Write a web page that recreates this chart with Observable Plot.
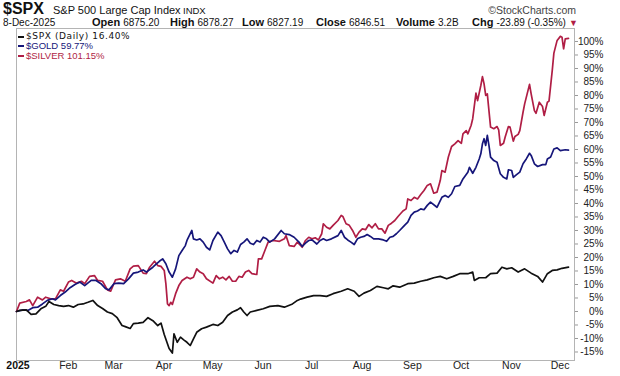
<!DOCTYPE html>
<html><head><meta charset="utf-8">
<script src="https://cdn.jsdelivr.net/npm/d3@7"></script>
<script src="https://cdn.jsdelivr.net/npm/@observablehq/plot@0.6"></script>
<style>
body{margin:0;background:#fff;width:620px;height:376px;overflow:hidden;font-family:"Liberation Sans",Arial,sans-serif;color:#111}
#wrap{position:relative;width:620px;height:376px}
#hdr{position:relative;height:27px}
#hdr span{position:absolute;white-space:nowrap;line-height:1}
#hdr .g{font-size:11px;height:11px}
.b{font-weight:bold;font-size:11px}
.v{font-size:10px}
#legend{position:absolute;left:18px;top:31.5px;line-height:9.5px}
#legend div{white-space:nowrap;position:relative;padding-left:8px;height:9.5px}
#legend i{position:absolute;left:0;top:4px;width:6px;height:2px}
</style></head>
<body><div id="wrap">
<div id="hdr">
  <span style="left:3px;top:1px;font-size:16px;font-weight:bold">$SPX</span>
  <span style="left:53px;top:4.5px;font-size:11px">S&amp;P 500 Large Cap Index</span>
  <span style="left:183px;top:5.5px;font-size:9.5px">INDX</span>
  <span style="right:44px;top:4.5px;font-size:10.5px;color:#444">©StockCharts.com</span>
  <span class="v" style="left:3px;top:17.5px">8-Dec-2025</span>
  <span class="g" style="left:92px;top:17px"><b class="b">Open</b> <span class="v" style="position:static">6875.20</span></span>
  <span class="g" style="left:170px;top:17px"><b class="b">High</b> <span class="v" style="position:static">6878.27</span></span>
  <span class="g" style="left:242px;top:17px"><b class="b">Low</b> <span class="v" style="position:static">6827.19</span></span>
  <span class="g" style="left:316px;top:17px"><b class="b">Close</b> <span class="v" style="position:static">6846.51</span></span>
  <span class="g" style="left:396px;top:17px"><b class="b">Volume</b> <span class="v" style="position:static">3.2B</span></span>
  <span class="g" style="left:472px;top:17px"><b class="b">Chg</b> <span class="v" style="position:static">-23.89 (-0.35%)</span> <span style="position:static;color:#b01e45;font-size:9px">▼</span></span>
</div>
<div id="chart"></div>
<div id="legend"></div>
</div>
<script>
// day of 2025 (Jan 1 = 0) and % change since Dec 31, 2024
const spxDay = [1,3,7,10,13,16,19,21,24,27,30,33,36,39,42,45,48,51,54,57,60,63,66,68,71,73,76,79,82,85,88,90,92,95,97,98,100,102,104,106,108,110,112,115,118,122,125,128,131,134,137,139,141,143,145,149,153,157,162,166,171,174,176,180,184,188,192,196,201,205,209,212,215,219,223,227,230,233,237,242,246,250,254,258,262,266,270,274,279,282,283,286,290,293,297,300,303,306,310,314,318,322,325,328,331,334,337,341];
const spxPct = [0,0.4,0.6,-1.1,-0.9,1.0,1.9,3.7,2.6,2.2,1.9,2.2,1.6,2.6,2.8,3.4,4.1,2.2,1.1,-0.2,-0.8,-2.3,-5.2,-5.6,-6.3,-4.5,-4.3,-4.0,-2.3,-3.4,-5.2,-4.3,-8.5,-13.7,-15.4,-8.3,-11.4,-9.5,-10.5,-11.4,-12.6,-10.1,-7.7,-6.4,-5.8,-4.8,-5.2,-4.0,-1.5,-0.2,0.6,1.4,-0.2,-1.5,-0.2,0.4,1.0,1.9,2.2,1.6,2.8,4.1,4.6,5.3,5.9,5.9,5.6,6.6,7.5,8.4,7.5,5.6,6.8,7.8,9.3,8.8,8.4,9.5,9.0,10.3,10.5,11.2,11.7,12.5,13.0,12.1,13.0,14.0,14.0,14.6,11.5,12.5,12.5,14.0,14.2,16.4,15.8,16.2,14.6,15.8,14.2,13.0,10.9,14.0,15.2,15.4,16.0,16.4];

const goldDay = [1,5,8,11,14,17,20,23,25,28,31,34,37,40,43,47,50,53,56,58,61,64,67,70,73,76,79,81,85,87,89,91,93,95,97,99,101,103,105,106,109,110,112,114,116,118,120,122,125,127,129,131,133,135,137,139,141,143,145,147,149,151,153,155,157,160,164,166,169,172,175,177,179,181,183,186,188,190,192,195,199,201,203,205,207,209,211,213,215,217,219,221,224,227,229,231,233,235,237,240,242,244,246,248,250,252,254,256,260,263,265,267,269,271,274,276,279,280,282,284,286,287,288,289,290,291,292,293,295,297,299,301,303,304,306,307,309,311,313,315,317,318,320,322,325,327,328,330,332,334,336,339,341];
const goldPct = [0,0.6,0.4,1.4,1.6,2.8,4.1,4.7,4.3,5.9,7.2,8.8,10,10.9,9.6,11.5,11.5,10.3,8.4,8,10.3,10.5,10.3,12.1,14.2,14.6,15.4,14.6,16.4,17.5,18.6,19.5,17.7,14.6,12.7,15.8,20.7,22.6,24.4,26.3,30,26.9,26.5,26.9,25.7,23.8,22.8,26.3,29.4,28.1,25.7,23.2,21.4,22.6,22,24.8,25.7,26.9,25.3,24.8,26.3,25.7,27.5,26.9,25.7,26.9,30,28.8,28.5,27.5,25.7,24.1,25.3,26.3,26.5,25,26.3,26.9,26.3,26.9,28.1,30,27.5,26.5,25.7,24.8,26.9,27.5,27.8,28.5,27.8,26.9,26.9,26.5,26,27.5,27.8,28.8,30,31.9,33.1,35.6,36.8,37.2,38,37.7,39.3,40.5,38.6,42.3,43,42.3,43.6,46.3,46.7,49.1,51.6,53.4,51.2,53.4,56.5,58.4,62.1,64,61.5,65.2,61.5,57.2,55.9,55.3,51,49.7,49.1,52.5,52.2,49.7,50.7,51.6,54.7,56.5,58.6,57.8,54.7,53.7,54.4,54.4,56.5,57.2,60.2,60.6,59.6,59.9,59.77];

const silverDay = [1,3,7,9,11,14,17,19,22,25,28,30,33,35,38,41,43,46,49,51,54,57,59,62,65,68,71,73,76,79,81,83,86,88,90,92,93,94,95,96,97,99,101,103,106,108,110,112,114,116,118,122,124,126,128,130,132,134,136,138,140,142,144,146,149,150,152,154,156,159,163,166,167,169,172,174,177,179,181,183,185,187,189,190,192,194,196,199,201,202,204,206,208,210,212,214,216,218,220,222,224,226,228,230,232,234,236,239,241,242,244,246,248,250,252,254,256,258,260,262,263,265,267,269,271,273,275,276,278,279,281,282,284,285,287,288,289,290,291,292,293,295,297,298,299,301,302,304,305,307,308,310,311,313,314,317,318,320,321,323,325,326,328,329,331,332,334,336,337,338,339,341];
const silverPct = [0,3.1,3.7,4.3,2.2,5.3,4.3,5.3,4.7,4.7,8,7.5,10.9,11.5,10.5,11.2,10.3,13,13.3,11.5,11.2,8,7.5,11.7,12.1,11.2,15.8,16.8,17,14.2,14,16.4,18.6,17,16.7,15.2,10.3,2.8,2.2,3.4,2.6,6.6,9.6,11.5,12.7,12.1,12.7,15.8,14.6,14,12.1,10.5,13.3,12.1,12.7,11.7,13,11.2,11.2,13,12.7,14.6,15.2,14,13.7,19.5,19.5,22.6,25.7,26.3,26,26.9,28.1,24.4,24.1,25.7,23.8,26.3,27.5,26.9,27.3,26.5,28.8,32.5,31.2,30.6,31.9,33.7,35.6,35.2,32.5,31.9,30,27.5,29.4,30.6,30.3,32.2,31,32.5,30.6,30.6,29,31.9,32.7,33.7,35.2,37.2,38,41.7,41.1,42.3,41.7,43.3,44.8,46.7,47.3,43.8,44.2,48.5,52.2,51.6,57.2,61.1,62.1,63.3,62.3,65.8,67,65.8,68.9,71.4,80.9,78.1,83.7,87,84.3,80,80.6,74.4,68.3,67.7,68.5,67.3,61.5,62.3,64.6,68.5,68.3,63.1,64.8,65.6,67,73.8,76.9,84.1,80.6,74.4,73.4,77.5,75.9,72.6,77.5,77.9,89.3,95.7,100.4,101.9,101.6,97.3,101,101.15];

const legendLabels = ["$SPX (Daily) 16.40%", "$GOLD 59.77%", "$SILVER 101.15%"];
const seriesColors = ["#111111", "#16167a", "#b01e45"];
const yTicks = [-15,-10,-5,0,5,10,15,20,25,30,35,40,45,50,55,60,65,70,75,80,85,90,95,100];
const monthTicks = ["2025-02-01","2025-03-01","2025-04-01","2025-05-01","2025-06-01","2025-07-01","2025-08-01","2025-09-01","2025-10-01","2025-11-01","2025-12-01"];
const monthLabels = ["Feb","Mar","Apr","May","Jun","Jul","Aug","Sep","Oct","Nov","Dec"];
const yearTick = "2025-01-02", yearLabel = "2025";

const t0 = Date.UTC(2025, 0, 1);
const toDate = d => new Date(t0 + d * 864e5);
const mk = (days, pct) => days.map((d, i) => ({date: toDate(d), pct: pct[i]}));
const spx = mk(spxDay, spxPct), gold = mk(goldDay, goldPct), silver = mk(silverDay, silverPct);
const months = monthTicks.map((m, i) => ({date: new Date(m), label: monthLabels[i]}));

const chart = Plot.plot({
  width: 620, height: 349,
  marginTop: 1, marginBottom: 16, marginLeft: 16, marginRight: 46,
  style: {fontFamily: "'Liberation Sans', Arial, sans-serif", background: "#fff"},
  x: {type: "utc", domain: [toDate(1), toDate(344.7)], axis: null},
  y: {domain: [-18.15, 104.81], axis: null},
  marks: [
    Plot.frame({stroke: "#b4b4b4"}),
    Plot.axisY({anchor: "right", label: null, ticks: yTicks, tickFormat: d => d + "%", tickSize: 3, tickPadding: 26, textAnchor: "end", fontSize: 10, fill: "#222", stroke: "#999"}),
    Plot.text(months, {x: "date", text: "label", frameAnchor: "bottom", dy: 8, dx: 3, fontSize: 10.5, fill: "#222"}),
    Plot.text([{date: new Date(yearTick), label: yearLabel}], {x: "date", text: "label", frameAnchor: "bottom", dy: 8, dx: 1.5, fontSize: 10.5, fontWeight: "bold", fill: "#111"}),
    Plot.line(silver, {x: "date", y: "pct", stroke: seriesColors[2], strokeWidth: 1.7}),
    Plot.line(gold, {x: "date", y: "pct", stroke: seriesColors[1], strokeWidth: 1.7}),
    Plot.line(spx, {x: "date", y: "pct", stroke: seriesColors[0], strokeWidth: 1.7})
  ]
});
document.getElementById("chart").appendChild(chart);

const lg = document.getElementById("legend");
legendLabels.forEach((t, i) => {
  const div = document.createElement("div");
  div.style.color = seriesColors[i];
  div.style.fontSize = "9.5px";
  if (i === 0) { div.style.fontFamily = "'DejaVu Sans', sans-serif"; div.style.fontSize = "9px"; div.style.letterSpacing = "0.6px"; }
  const dash = document.createElement("i");
  dash.style.background = seriesColors[i];
  div.appendChild(dash);
  div.appendChild(document.createTextNode(t));
  lg.appendChild(div);
});
</script>
</body></html>
